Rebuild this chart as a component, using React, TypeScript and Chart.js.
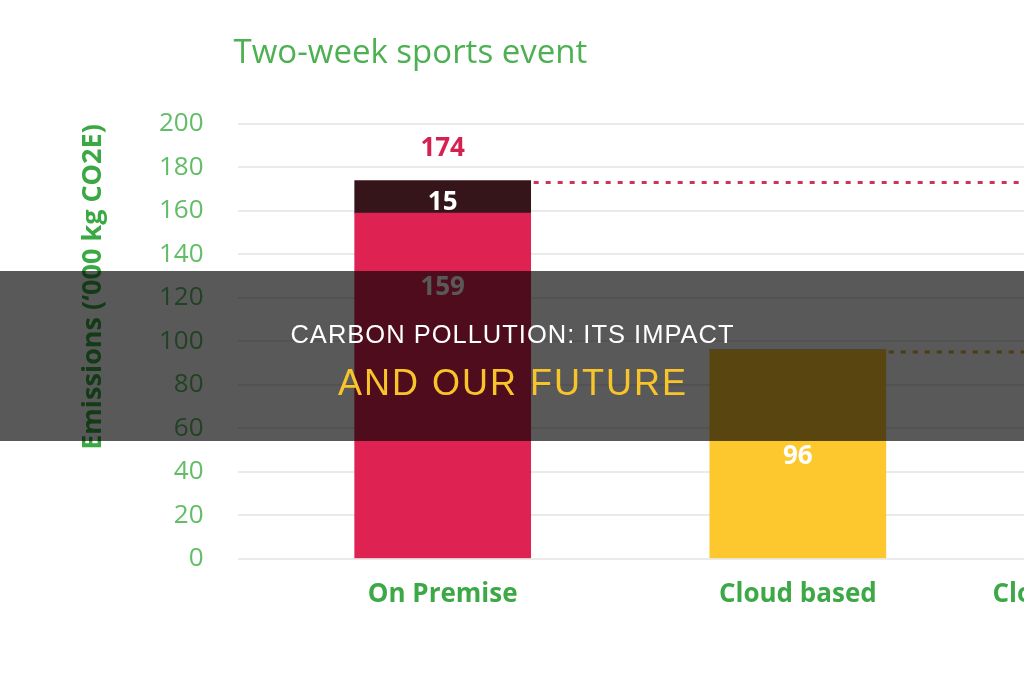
import React, { useEffect, useRef } from "react";
import { Chart, registerables } from "chart.js";

Chart.register(...registerables);

const categories = ["On Premise", "Cloud based", "Cloud based & optimised"];
const baseValues = [159, 96, 58];
const extraValues = [15, 0, 0];
const baseColors = ["#DE2352", "#FDC72E", "#46A94B"];
const extraColor = "#36151A";
const dashColors = ["#CF3358", "#D9AE2C", "#46A94B"];
const totalLabelColor = "#D62150";
const yTicks = [0, 20, 40, 60, 80, 100, 120, 140, 160, 180, 200];
const chartTitle = "Two-week sports event";
const yAxisTitle = "Emissions (\u2018000 kg CO2E)";
const overlayLine1 = "CARBON POLLUTION: ITS IMPACT";
const overlayLine2 = "AND OUR FUTURE";

const FONT = "'Open Sans', 'DejaVu Sans', sans-serif";

const decorPlugin = {
  id: "decor",
  afterDatasetsDraw(chart: any) {
    const ctx = chart.ctx as CanvasRenderingContext2D;
    const yScale = chart.scales.y;
    const area = chart.chartArea;
    const m0 = chart.getDatasetMeta(0);
    const m1 = chart.getDatasetMeta(1);
    ctx.save();
    categories.forEach((_, i) => {
      const b: any = m0.data[i];
      if (!b) return;
      const total = baseValues[i] + extraValues[i];
      const topY = yScale.getPixelForValue(total);
      const right = b.x + b.width / 2;
      // dashed connector
      if (i < categories.length - 1) {
        ctx.save();
        ctx.setLineDash([5, 7]);
        ctx.strokeStyle = dashColors[i];
        ctx.lineWidth = 3;
        ctx.beginPath();
        ctx.moveTo(right + 3, topY + 2);
        ctx.lineTo(area.right, topY + 2);
        ctx.stroke();
        ctx.restore();
      }
      const size = 26;
      const digitHalf = size * 0.357;
      ctx.textAlign = "center";
      ctx.textBaseline = "alphabetic";
      ctx.font = `bold ${size}px ${FONT}`;
      // total label
      if (extraValues[i] > 0) {
        ctx.fillStyle = totalLabelColor;
        ctx.fillText(String(total), b.x, topY - 34 + digitHalf);
        const e: any = m1.data[i];
        const eTop = yScale.getPixelForValue(total);
        const eBot = yScale.getPixelForValue(baseValues[i]);
        ctx.fillStyle = "#FFFFFF";
        ctx.fillText(String(extraValues[i]), e ? e.x : b.x, (eTop + eBot) / 2 + 4 + digitHalf);
      }
      // base label
      const bTop = yScale.getPixelForValue(baseValues[i]);
      const bBot = yScale.getPixelForValue(0);
      const h = bBot - bTop;
      const cy = h > 300 ? bTop + 73 : (bTop + bBot) / 2;
      ctx.fillStyle = "#FFFFFF";
      ctx.fillText(String(baseValues[i]), b.x, cy + digitHalf);
    });
    ctx.restore();
  },
  afterDraw(chart: any) {
    const ctx = chart.ctx as CanvasRenderingContext2D;
    const area = chart.chartArea;
    ctx.save();
    // chart title
    ctx.fillStyle = "#4DB052";
    ctx.font = `400 33px ${FONT}`;
    ctx.textAlign = "left";
    ctx.textBaseline = "alphabetic";
    ctx.fillText(chartTitle, area.left - 4, 63);
    // y axis title
    ctx.translate(93, area.top + 163);
    ctx.rotate(-Math.PI / 2);
    ctx.fillStyle = "#3AA843";
    ctx.font = `bold 27px ${FONT}`;
    ctx.textAlign = "center";
    ctx.textBaseline = "middle";
    ctx.fillText(yAxisTitle, 0, 0);
    ctx.restore();
  },
};

export default function App() {
  const canvasRef = useRef<HTMLCanvasElement | null>(null);

  useEffect(() => {
    const canvas = canvasRef.current;
    if (!canvas) return;
    const chart = new Chart(canvas, {
      type: "bar",
      data: {
        datasets: [
          {
            label: "Base",
            data: baseValues.map((v, i) => ({ x: i, y: v })),
            backgroundColor: baseColors,
            barThickness: 176,
            borderWidth: 0,
          },
          {
            label: "Extra",
            data: extraValues.map((v, i) => ({ x: i, y: v })),
            backgroundColor: extraColor,
            barThickness: 176,
            borderWidth: 0,
          },
        ],
      } as any,
      options: {
        responsive: false,
        animation: false,
        devicePixelRatio: 1,
        layout: { padding: { left: 125, top: 124, right: 0, bottom: 58 } },
        plugins: {
          legend: { display: false },
          tooltip: { enabled: false },
          title: { display: false },
        },
        scales: {
          x: {
            type: "linear",
            stacked: true,
            offset: false,
            min: -0.5775,
            max: 2.6957,
            grid: { display: false },
            border: { display: false },
            afterBuildTicks: (s: any) => {
              s.ticks = categories.map((_, i) => ({ value: i }));
            },
            ticks: {
              callback: (v: any) => categories[v as number] ?? "",
              color: "#3DA846",
              font: { family: FONT, size: 26, weight: "bold" },
              padding: 12,
              maxRotation: 0,
              autoSkip: false,
            },
          },
          y: {
            stacked: true,
            min: 0,
            max: 200,
            afterBuildTicks: (s: any) => {
              s.ticks = yTicks.map((v) => ({ value: v }));
            },
            grid: { color: "#EAEAEA", lineWidth: 2, drawTicks: false },
            border: { display: false },
            ticks: {
              color: "#62BD67",
              font: { family: FONT, size: 26 },
              padding: 34,
            },
          },
        },
      } as any,
      plugins: [decorPlugin],
    });
    return () => chart.destroy();
  }, []);

  return (
    <div
      style={{
        position: "fixed",
        left: 0,
        top: 0,
        width: 1024,
        height: 680,
        overflow: "hidden",
        background: "#FFFFFF",
      }}
    >
      <canvas ref={canvasRef} width={1400} height={680} style={{ display: "block" }} />
      <div
        style={{
          position: "absolute",
          left: 0,
          top: 271,
          width: 1024,
          height: 170,
          background: "rgba(0,0,0,0.65)",
        }}
      />
      <div
        style={{
          position: "absolute",
          left: 0,
          top: 321.7,
          width: 1024,
          paddingLeft: 1,
          boxSizing: "border-box",
          textAlign: "center",
          fontFamily: "'Liberation Sans', Arial, sans-serif",
          fontSize: 25.5,
          lineHeight: "25.5px",
          letterSpacing: 1,
          color: "#FFFFFF",
          whiteSpace: "nowrap",
        }}
      >
        {overlayLine1}
      </div>
      <div
        style={{
          position: "absolute",
          left: 0,
          top: 364.5,
          width: 1024,
          paddingLeft: 2,
          boxSizing: "border-box",
          textAlign: "center",
          fontFamily: "'Liberation Sans', Arial, sans-serif",
          fontSize: 36,
          lineHeight: "36px",
          letterSpacing: 2,
          color: "#F8C42A",
          whiteSpace: "nowrap",
        }}
      >
        {overlayLine2}
      </div>
    </div>
  );
}
